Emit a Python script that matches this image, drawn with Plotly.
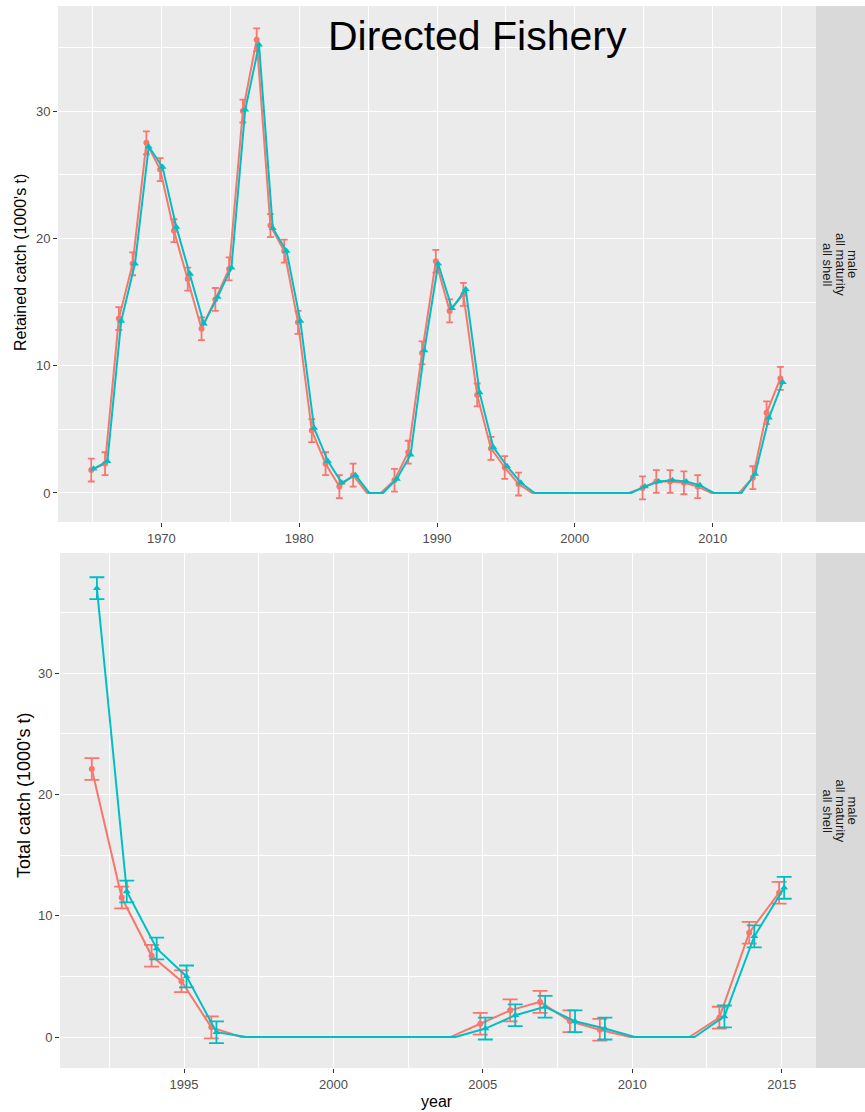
import plotly.graph_objects as go
import numpy as np

# ---------------- data ----------------
years_top = list(range(1965, 2016))
retained_obs = [1.8, 2.3, 13.7, 18.0, 27.5, 25.4, 20.6, 16.8, 12.9, 15.2,
                17.6, 30.0, 35.6, 21.0, 19.0, 13.4, 4.9, 2.3, 0.5, 1.4,
                0.0, 0.0, 1.0, 3.2, 11.0, 18.2, 14.3, 15.6, 7.7, 3.5,
                2.0, 0.7, 0.0, 0.0, 0.0, 0.0, 0.0, 0.0, 0.0, 0.0,
                0.4, 0.9, 0.9, 0.8, 0.5, 0.0, 0.0, 0.0, 1.2, 6.3,
                9.0]
retained_pred = [1.9, 2.5, 13.5, 18.0, 27.2, 25.6, 20.9, 17.2, 13.3, 15.4,
                 17.7, 30.1, 35.2, 20.8, 19.0, 13.5, 5.1, 2.5, 0.8, 1.4,
                 0.0, 0.0, 1.1, 3.0, 11.2, 18.0, 14.5, 16.0, 7.9, 3.6,
                 2.1, 0.8, 0.0, 0.0, 0.0, 0.0, 0.0, 0.0, 0.0, 0.0,
                 0.5, 0.9, 1.0, 0.9, 0.6, 0.0, 0.0, 0.0, 1.5, 5.9,
                 8.7]
retained_obs_years = (list(range(1965, 1985)) + list(range(1987, 1997))
                      + list(range(2005, 2010)) + list(range(2013, 2016)))
retained_err = [0.9] * len(retained_obs_years)

years_bot = list(range(1992, 2016))
total_obs = [22.1, 11.5, 6.7, 4.6, 0.8, 0.0, 0.0, 0.0, 0.0, 0.0,
             0.0, 0.0, 0.0, 1.1, 2.2, 2.9, 1.3, 0.6, 0.0, 0.0,
             0.0, 1.6, 8.6, 11.9]
total_pred = [37.0, 12.0, 7.3, 5.0, 0.4, 0.0, 0.0, 0.0, 0.0, 0.0,
              0.0, 0.0, 0.0, 0.7, 1.8, 2.5, 1.3, 0.7, 0.0, 0.0,
              0.0, 1.7, 8.3, 12.3]
total_obs_years = list(range(1992, 1997)) + list(range(2005, 2010)) + list(range(2013, 2016))
total_obs_err = [0.9] * len(total_obs_years)
total_pred_err = [0.9] * len(total_obs_years)

top_xticks = [1970, 1980, 1990, 2000, 2010]
top_yticks = [0, 10, 20, 30]
bot_xticks = [1995, 2000, 2005, 2010, 2015]
bot_yticks = [0, 10, 20, 30]

strip_lines = ["male", "all maturity", "all shell"]
title_text = "Directed Fishery"

# ---------------- style ----------------
W, H = 865, 1112
RED, CYAN = "#F8766D", "#00BFC4"
PANEL, STRIP = "#EBEBEB", "#D9D9D9"
DODGE = 0.085
LW = 2.0

top_px = (58, 816, 6, 522)      # left, right, top, bottom
bot_px = (60, 816, 553, 1068)
top_xr = [1962.5, 2017.5]
top_yr = [-2.28, 38.25]
bot_xr = [1990.85, 2016.15]
bot_yr = [-2.55, 39.9]


def dom_x(p):
    return [p[0] / W, p[1] / W]


def dom_y(p):
    return [1 - p[3] / H, 1 - p[2] / H]


def cap_halfwidth(p, xr):
    return 0.25 * (p[1] - p[0]) / (xr[1] - xr[0])


def pick(years, vals, sel):
    d = dict(zip(years, vals))
    return [d[y] for y in sel]


fig = go.Figure()

# top panel
for vals, col, sym, shift, err in [
    (retained_obs, RED, "circle", -DODGE, retained_err),
    (retained_pred, CYAN, "triangle-up", DODGE, None),
]:
    xs = np.array(years_top) + shift
    fig.add_trace(go.Scatter(x=xs, y=vals, mode="lines",
                             line=dict(color=col, width=LW),
                             xaxis="x", yaxis="y", showlegend=False, hoverinfo="skip"))
    ox = np.array(retained_obs_years) + shift
    oy = pick(years_top, vals, retained_obs_years)
    kw = {}
    if err is not None:
        kw["error_y"] = dict(type="data", array=err, symmetric=True, color=col,
                             thickness=1.8, width=cap_halfwidth(top_px, top_xr))
    fig.add_trace(go.Scatter(x=ox, y=oy, mode="markers",
                             marker=dict(color=col, symbol=sym, size=6 if sym == "circle" else 7),
                             xaxis="x", yaxis="y", showlegend=False, **kw))

# bottom panel
for vals, col, sym, shift, err in [
    (total_obs, RED, "circle", -DODGE, total_obs_err),
    (total_pred, CYAN, "triangle-up", DODGE, total_pred_err),
]:
    xs = np.array(years_bot) + shift
    fig.add_trace(go.Scatter(x=xs, y=vals, mode="lines",
                             line=dict(color=col, width=LW),
                             xaxis="x2", yaxis="y2", showlegend=False, hoverinfo="skip"))
    ox = np.array(total_obs_years) + shift
    oy = pick(years_bot, vals, total_obs_years)
    fig.add_trace(go.Scatter(x=ox, y=oy, mode="markers",
                             marker=dict(color=col, symbol=sym, size=6 if sym == "circle" else 7),
                             error_y=dict(type="data", array=err, symmetric=True, color=col,
                                          thickness=1.8, width=cap_halfwidth(bot_px, bot_xr)),
                             xaxis="x2", yaxis="y2", showlegend=False))

tickfont = dict(family="Liberation Sans, Arial, sans-serif", size=13, color="#4D4D4D")


def ax(domain, rng, ticks, minor_ticks, anchor):
    return dict(domain=domain, range=rng, tickvals=ticks, anchor=anchor,
                showgrid=True, gridcolor="white", gridwidth=1.4,
                minor=dict(tickvals=minor_ticks, showgrid=True, gridcolor="white",
                           gridwidth=0.7, ticks=""),
                ticks="outside", ticklen=4, tickwidth=1, tickcolor="#333333",
                tickfont=tickfont, zeroline=False, showline=False, fixedrange=True)


fig.update_layout(
    width=W, height=H, margin=dict(l=0, r=0, t=0, b=0),
    paper_bgcolor="white", plot_bgcolor=PANEL,
    xaxis=ax(dom_x(top_px), top_xr, top_xticks, [1965, 1975, 1985, 1995, 2005, 2015], "y"),
    yaxis=ax(dom_y(top_px), top_yr, top_yticks, [5, 15, 25, 35], "x"),
    xaxis2=ax(dom_x(bot_px), bot_xr, bot_xticks, [1992.5, 1997.5, 2002.5, 2007.5, 2012.5], "y2"),
    yaxis2=ax(dom_y(bot_px), bot_yr, bot_yticks, [5, 15, 25, 35], "x2"),
    font=dict(family="Liberation Sans, Arial, sans-serif"),
)

shapes = []
annotations = []
strip_x = [852, 840, 827]
for p in (top_px, bot_px):
    dy = dom_y(p)
    shapes.append(dict(type="rect", xref="paper", yref="paper", x0=p[1] / W, x1=1.0,
                       y0=dy[0], y1=dy[1], fillcolor=STRIP, line=dict(width=0), layer="below"))
    for line_text, sx in zip(strip_lines, strip_x):
        annotations.append(dict(xref="paper", yref="paper", x=sx / W,
                                y=(dy[0] + dy[1]) / 2, text=line_text, showarrow=False,
                                textangle=90, font=dict(size=13, color="#1A1A1A"),
                                xanchor="center", yanchor="middle"))

annotations.append(dict(xref="paper", yref="paper", x=21 / W, y=1 - 263 / H,
                        text="Retained catch (1000's t)", textangle=-90, showarrow=False,
                        font=dict(size=16, color="black"), xanchor="center", yanchor="middle"))
annotations.append(dict(xref="paper", yref="paper", x=24 / W, y=1 - 795 / H,
                        text="Total catch (1000's t)", textangle=-90, showarrow=False,
                        font=dict(size=18, color="black"), xanchor="center", yanchor="middle"))
annotations.append(dict(xref="paper", yref="paper", x=437 / W, y=1 - 1101 / H,
                        text="year", showarrow=False,
                        font=dict(size=16, color="black"), xanchor="center", yanchor="middle"))
annotations.append(dict(xref="paper", yref="paper", x=478 / W, y=1 - 36 / H,
                        text=title_text, showarrow=False,
                        font=dict(family="Liberation Sans, Arial, sans-serif",
                                  size=41, color="black"),
                        xanchor="center", yanchor="middle"))

fig.update_layout(shapes=shapes, annotations=annotations)
fig.write_html("out.html")
